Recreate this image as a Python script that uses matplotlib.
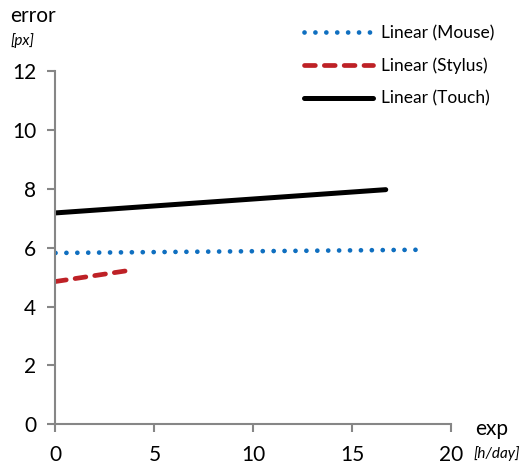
import matplotlib
matplotlib.use("Agg")
import matplotlib.pyplot as plt

plt.rcParams['font.family'] = ['Lato', 'DejaVu Sans']

# Linear trend lines (endpoints of each fit)
mouse_x = [0.0, 18.7]
mouse_y = [5.82, 5.93]
stylus_x = [0.0, 3.65]
stylus_y = [4.85, 5.22]
touch_x = [0.0, 16.7]
touch_y = [7.18, 7.97]

x_ticks = [0, 5, 10, 15, 20]
y_ticks = [0, 2, 4, 6, 8, 10, 12]

fig = plt.figure(figsize=(5.27, 4.66), dpi=100)
ax = fig.add_axes([0.1053, 0.0895, 0.7505, 0.7581])

ax.plot(mouse_x, mouse_y, color='#0f6fc0', lw=3.4, linestyle=(0, (0.01, 2.3)),
        dash_capstyle='round', solid_capstyle='round', label='Linear (Mouse)')
ax.plot(stylus_x, stylus_y, color='#be2126', lw=3.4, linestyle=(0, (2.3, 1.9)),
        dash_capstyle='round', label='Linear (Stylus)')
ax.plot(touch_x, touch_y, color='black', lw=3.6, solid_capstyle='round',
        label='Linear (Touch)')

ax.set_xlim(0, 20)
ax.set_ylim(0, 12)
ax.set_xticks(x_ticks)
ax.set_yticks(y_ticks)
for s in ['top', 'right']:
    ax.spines[s].set_visible(False)
for s in ['left', 'bottom']:
    ax.spines[s].set_color('#868686')
    ax.spines[s].set_linewidth(1.5)
ax.tick_params(axis='both', colors='#868686', labelcolor='black', length=6,
               width=1.5, labelsize=15, direction='out')
ax.tick_params(axis='x', pad=9)
ax.tick_params(axis='y', pad=8)

fig.text(10 / 527, 1 - 16 / 466, 'error', fontsize=15, ha='left', va='center')
fig.text(10 / 527, 1 - 41 / 466, '[px]', fontsize=11, style='italic', ha='left', va='center')
fig.text(475 / 527, 1 - 429 / 466, 'exp', fontsize=15, ha='left', va='center')
fig.text(473 / 527, 1 - 454 / 466, '[h/day]', fontsize=11, style='italic', ha='left', va='center')

leg = ax.legend(loc='upper left', bbox_to_anchor=(304 / 527, 1 - 25 / 466),
                bbox_transform=fig.transFigure, frameon=False, fontsize=12.5,
                handlelength=4.0, handletextpad=0.45, labelspacing=0.95,
                borderpad=0, borderaxespad=0)

fig.savefig('out.png', dpi=100)
